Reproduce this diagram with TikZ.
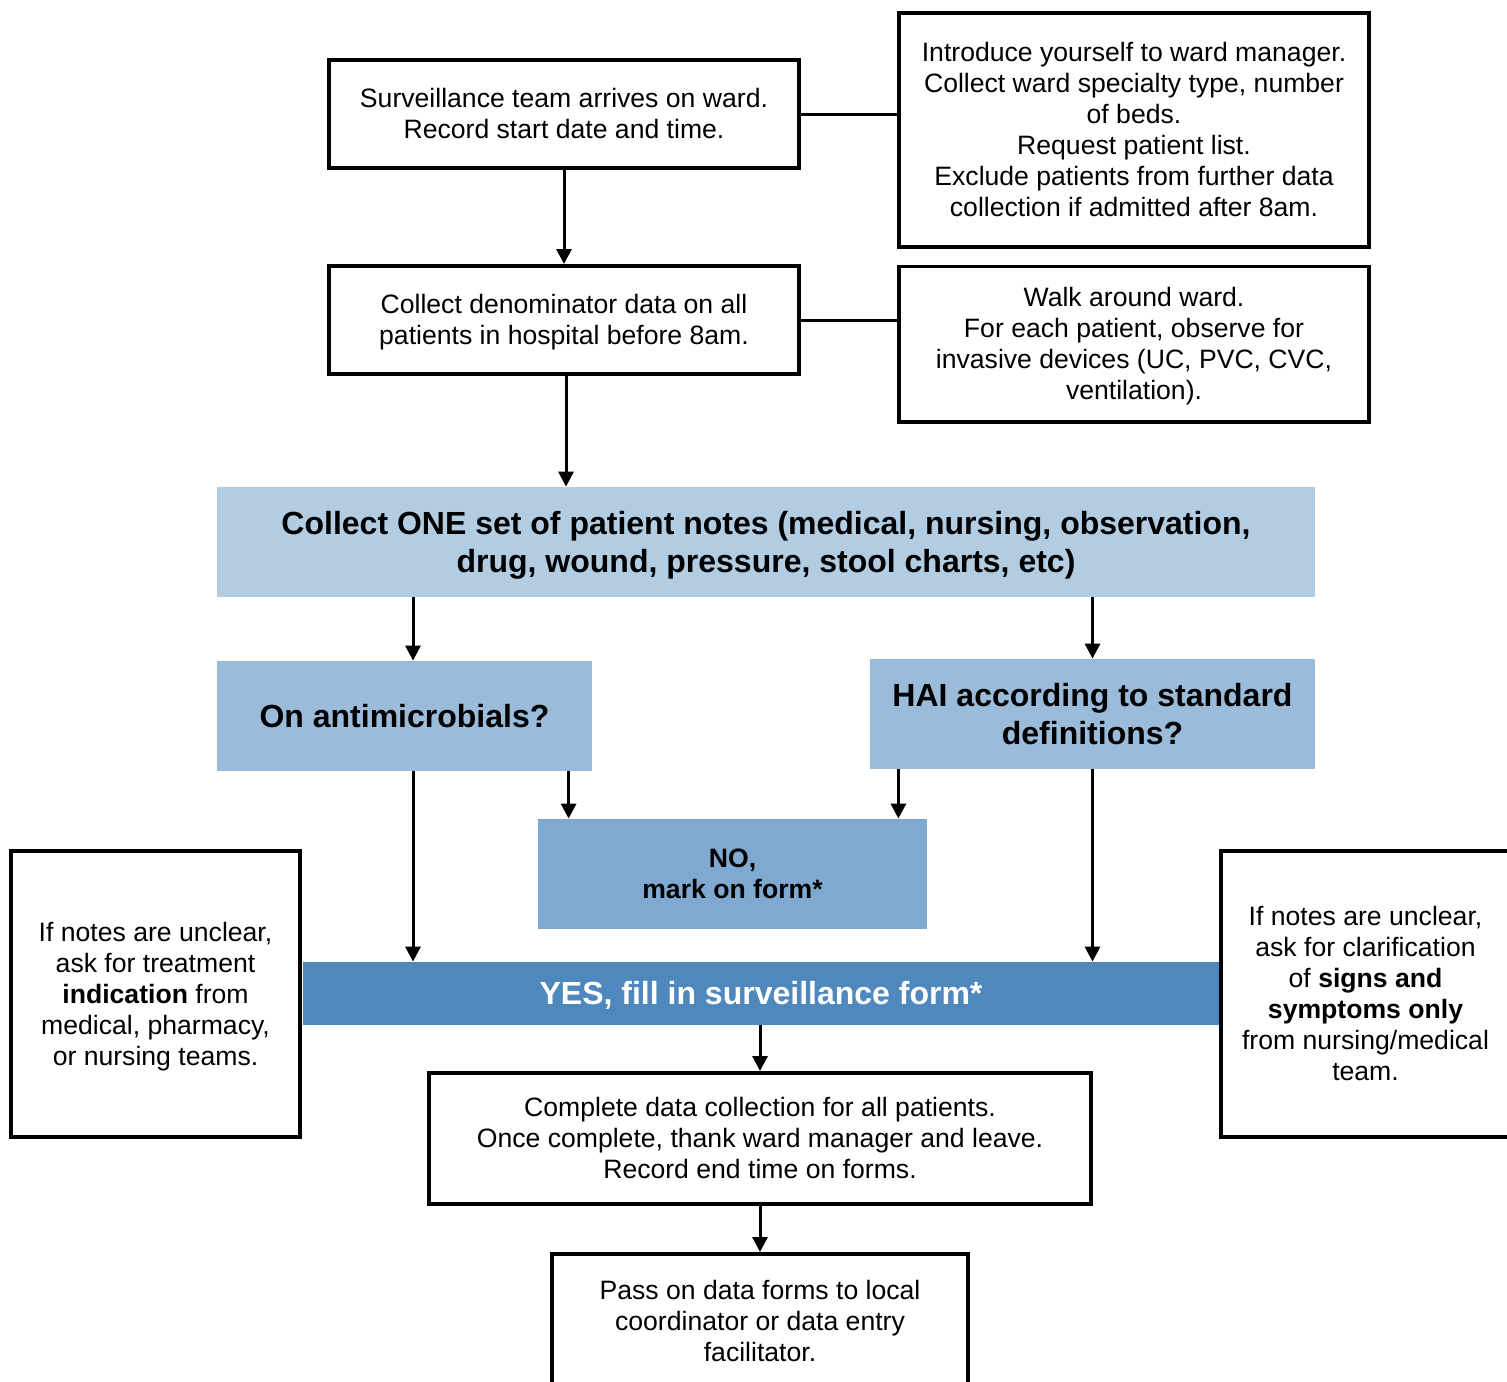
\documentclass[tikz,border=0pt]{standalone}
\usepackage{fontspec}
\setmainfont{Liberation Sans}
\usetikzlibrary{arrows.meta}

\definecolor{notesblue}{RGB}{178,204,226}
\definecolor{askblue}{RGB}{154,187,217}
\definecolor{noblue}{RGB}{127,169,208}
\definecolor{yesblue}{RGB}{79,136,189}

\newcommand{\plainstrut}{\rule[-2.8pt]{0pt}{14.8pt}}
\newcommand{\boldstrut}{\rule[-3.4pt]{0pt}{17.9pt}}

\tikzset{
	plainbox/.style={draw=black, line width=1.8pt, fill=white, align=center, inner sep=0pt,
		font=\fontsize{13.3}{15.5}\selectfont, execute at end node=\plainstrut},
	bluebox/.style={fill=#1, align=center, inner sep=0pt,
		font=\fontsize{16}{19}\selectfont\bfseries, execute at end node=\boldstrut},
	arr/.style={line width=1.5pt, -{Triangle[width=7.5pt,length=7.5pt]}},
	tie/.style={line width=1.5pt}
}

\begin{document}
\begin{tikzpicture}[x=0.5pt,y=-0.5pt]
	\useasboundingbox (0,0) rectangle (1507,1381);

	\node[plainbox, minimum width=235.2pt, minimum height=54.2pt] (arrive) at (564,114)
		{\plainstrut Surveillance team arrives on ward.\\Record start date and time.};
	\node[plainbox, minimum width=235.2pt, minimum height=117.2pt] (intro) at (1134,130)
		{\plainstrut Introduce yourself to ward manager.\\Collect ward specialty type, number\\of beds.\\Request patient list.\\Exclude patients from further data\\collection if admitted after 8am.};
	\node[plainbox, minimum width=235.2pt, minimum height=54.2pt] (denom) at (564,320)
		{\plainstrut Collect denominator data on all\\patients in hospital before 8am.};
	\node[plainbox, minimum width=235.2pt, minimum height=77.7pt] (walk) at (1134,344)
		{\plainstrut Walk around ward.\\For each patient, observe for\\invasive devices (UC, PVC, CVC,\\ventilation).};

	\node[bluebox=notesblue, minimum width=549pt, minimum height=55pt] (notes) at (766,542)
		{\boldstrut Collect ONE set of patient notes (medical, nursing, observation,\\drug, wound, pressure, stool charts, etc)};
	\node[bluebox=askblue, minimum width=187.5pt, minimum height=55pt] (anti) at (404.5,716)
		{\boldstrut On antimicrobials?};
	\node[bluebox=askblue, minimum width=222.5pt, minimum height=55pt] (hai) at (1092.5,714)
		{\boldstrut HAI according to standard\\definitions?};
	\node[bluebox=noblue, minimum width=194.5pt, minimum height=55pt,
		font=\fontsize{13.3}{15.5}\selectfont\bfseries, execute at end node=\plainstrut] (no) at (732.5,874)
		{\plainstrut NO,\\mark on form*};
	\node[bluebox=yesblue, minimum width=458pt, minimum height=31.5pt, text=white] (yes) at (761,993.5)
		{\boldstrut YES, fill in surveillance form*};

	\node[plainbox, minimum width=144.7pt, minimum height=143.2pt] (indic) at (155.5,994)
		{\plainstrut If notes are unclear,\\ask for treatment\\\textbf{indication} from\\medical, pharmacy,\\or nursing teams.};
	\node[plainbox, minimum width=144.7pt, minimum height=143.2pt] (signs) at (1365.5,994)
		{\plainstrut If notes are unclear,\\ask for clarification\\of \textbf{signs and}\\\textbf{symptoms only}\\from nursing/medical\\team.};

	\node[plainbox, minimum width=331.2pt, minimum height=65.7pt] (complete) at (760,1138.5)
		{\plainstrut Complete data collection for all patients.\\Once complete, thank ward manager and leave.\\Record end time on forms.};
	\node[plainbox, minimum width=208.2pt, minimum height=67.2pt] (pass) at (760,1321)
		{\plainstrut Pass on data forms to local\\coordinator or data entry\\facilitator.};

	\draw[tie] (arrive.east) -- (arrive.east -| intro.west);
	\draw[tie] (denom.east) -- (denom.east -| walk.west);
	\draw[arr] (arrive.south) -- (denom.north);
	\draw[arr] ([xshift=1pt]denom.south) -- ([xshift=1pt]denom.south |- notes.north);
	\draw[arr] ([xshift=4.25pt]anti.north |- notes.south) -- ([xshift=4.25pt]anti.north);
	\draw[arr] (hai.north |- notes.south) -- (hai.north);
	\draw[arr] ([xshift=15.5pt]no.north west |- anti.south) -- ([xshift=15.5pt]no.north west);
	\draw[arr] ([xshift=-14.5pt]no.north east |- hai.south) -- ([xshift=-14.5pt]no.north east);
	\draw[arr] ([xshift=4.25pt]anti.south) -- ([xshift=4.25pt]anti.south |- yes.north);
	\draw[arr] (hai.south) -- (hai.south |- yes.north);
	\draw[arr] (complete.north |- yes.south) -- (complete.north);
	\draw[arr] (complete.south) -- (pass.north);

\end{tikzpicture}
\end{document}
